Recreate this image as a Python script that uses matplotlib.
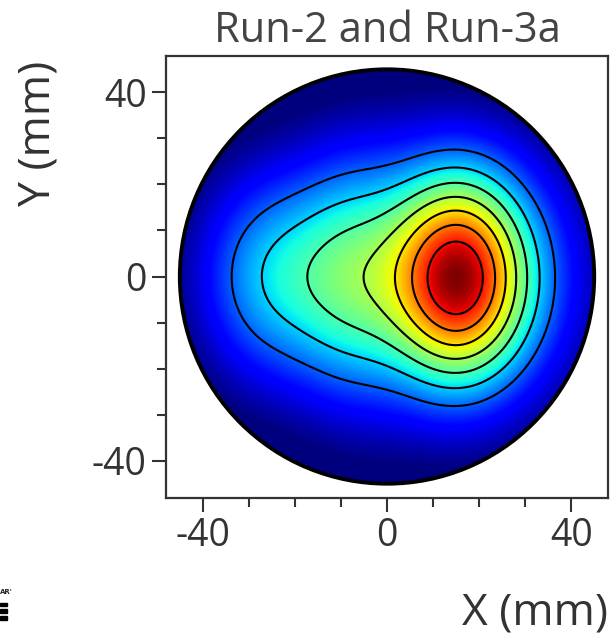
import matplotlib
matplotlib.use("Agg")
import matplotlib.pyplot as plt
import numpy as np
from matplotlib.patches import Circle, Rectangle

plt.rcParams["axes.unicode_minus"] = False

# beam-profile model: gaussian components (mm)
comp_x = [15.4, 15.4, -25.0, -8.0, 0.0]
comp_y = [-0.3, -0.3, 0.0, 0.0, 0.0]
comp_sx = [10.0, 18.0, 12.0, 8.5, 40.0]
comp_sy = [15.0, 20.0, 16.5, 19.0, 40.0]
comp_amp = [0.54, 0.37, 0.30, 0.19, 0.08]

levels = [0.3, 0.4, 0.5, 0.6, 0.7, 0.8, 0.9]
color_min, color_max = 0.1, 1.0
radius = 45.0
x_ticks = [-40, 0, 40]
y_ticks = [-40, 0, 40]

grid = np.linspace(-radius, radius, 600)
X, Y = np.meshgrid(grid, grid)
Z = np.zeros_like(X)
for cx, cy, sx, sy, a in zip(comp_x, comp_y, comp_sx, comp_sy, comp_amp):
    Z += a * np.exp(-((X - cx) ** 2 / (2 * sx ** 2) + (Y - cy) ** 2 / (2 * sy ** 2)))
Z = Z / Z.max()
Z = np.ma.masked_where(X ** 2 + Y ** 2 > radius ** 2, Z)

fig = plt.figure(figsize=(6.11, 6.35), dpi=100)
ax = fig.add_axes([0.2717, 0.2157, 0.7234, 0.6977])

im = ax.imshow(Z, extent=[-radius, radius, -radius, radius], origin="lower",
               cmap="jet", vmin=color_min, vmax=color_max, interpolation="bilinear")
ax.contour(X, Y, Z, levels=levels, colors="black", linewidths=1.5)
ring = Circle((0, 0), radius, facecolor="none", edgecolor="black", lw=2.8)
ax.add_patch(ring)
im.set_clip_path(ring)

ax.set_xlim(-48, 48)
ax.set_ylim(-48, 48)
ax.set_xticks(x_ticks)
ax.set_yticks(y_ticks)
ax.set_xticks(np.arange(-40, 41, 10), minor=True)
ax.set_yticks(np.arange(-40, 41, 10), minor=True)
ax.tick_params(which="major", direction="out", length=10, width=1.5,
               labelsize=27, colors="#333333", pad=4)
ax.tick_params(which="minor", direction="out", length=6.5, width=1.5, colors="#333333")
for lab in ax.get_xticklabels() + ax.get_yticklabels():
    lab.set_fontfamily("Open Sans")
for s in ax.spines.values():
    s.set_color("#333333")
    s.set_linewidth(1.6)

ax.set_title("Run-2 and Run-3a", fontsize=30, color="#444444",
             fontfamily="Open Sans", pad=10)
fig.text(0.995, 0.035, "X (mm)", ha="right", va="center", fontsize=32,
         color="#333333", fontfamily="Open Sans")
fig.text(0.062, 0.79, "Y (mm)", ha="center", va="center", rotation=90,
         fontsize=32, color="#333333", fontfamily="Open Sans")

# cropped logo remnant at the lower left edge
fig.text(0.0, 0.063, "AR'", fontsize=5, fontweight="bold", color="#222222",
         va="bottom", ha="left")
for yb in [0.045, 0.035, 0.024]:
    fig.patches.append(Rectangle((0.0, yb), 0.012, 0.006, transform=fig.transFigure,
                                 color="black"))

fig.savefig("out.png", dpi=100)
